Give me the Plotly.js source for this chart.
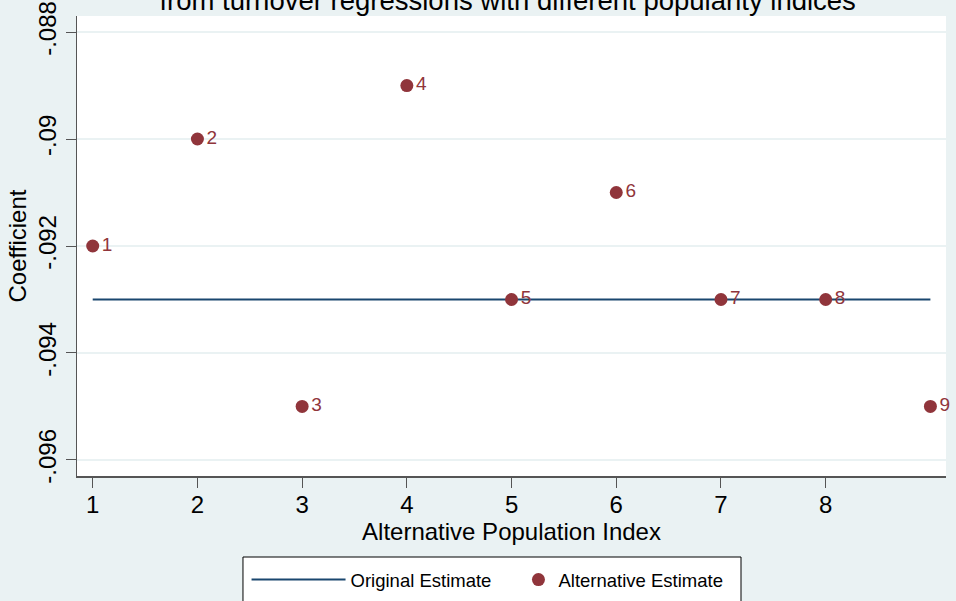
<!DOCTYPE html>
<html>
<head>
<meta charset="utf-8">
<script src="https://cdn.plot.ly/plotly-3.0.1.min.js"></script>
<style>html,body{margin:0;padding:0;background:#eaf2f3;}#chart{width:956px;height:601px;}</style>
</head>
<body>
<div id="chart"></div>
<script>
// Data
const indexIds = [1, 2, 3, 4, 5, 6, 7, 8, 9];
const indexLabels = ["1", "2", "3", "4", "5", "6", "7", "8", "9"];
const altEstimates = [-0.092, -0.090, -0.095, -0.089, -0.093, -0.091, -0.093, -0.093, -0.095];
const origX = [1, 9];
const origEstimate = [-0.093, -0.093];
const yTickVals = [-0.088, -0.090, -0.092, -0.094, -0.096];
const yTickText = ["-.088", "-.09", "-.092", "-.094", "-.096"];
const xTickVals = [1, 2, 3, 4, 5, 6, 7, 8];
const xTickText = ["1", "2", "3", "4", "5", "6", "7", "8"];

const FONT = "Liberation Sans, Arial, Helvetica, sans-serif";
const BG = "#eaf2f3";

const traces = [
  {
    x: origX, y: origEstimate, type: "scatter", mode: "lines",
    name: "Original Estimate", legend: "legend",
    line: {color: "#1a476f", width: 2}
  },
  {
    x: indexIds, y: altEstimates, type: "scatter", mode: "markers+text",
    name: "Alternative Estimate", legend: "legend2",
    text: indexLabels, textposition: "middle right",
    textfont: {family: FONT, size: 19, color: "#90353b"},
    marker: {color: "#90353b", size: 13},
    cliponaxis: false
  }
];

const legendFont = {family: FONT, size: 18.5, color: "#000000"};

const layout = {
  width: 956, height: 601,
  margin: {l: 77, r: 10, t: 16, b: 125, autoexpand: false},
  paper_bgcolor: BG, plot_bgcolor: "#ffffff",
  font: {family: FONT, color: "#000000"},
  title: {
    text: "from turnover regressions with different popularity indices",
    font: {family: FONT, size: 27.5, color: "#000000"},
    x: 0.531, xanchor: "center", xref: "container",
    y: 1, yanchor: "middle", yref: "container"
  },
  xaxis: {
    range: [0.85, 9.149],
    tickvals: xTickVals, ticktext: xTickText,
    ticks: "outside", ticklen: 10, tickwidth: 1, tickcolor: "#555555",
    showline: true, linecolor: "#555555", linewidth: 1.5,
    showgrid: false, zeroline: false,
    ticklabelstandoff: -3,
    tickfont: {family: FONT, size: 24, color: "#000000"},
    title: {text: "Alternative Population Index", font: {family: FONT, size: 24, color: "#000000"}, standoff: 0}
  },
  yaxis: {
    range: [-0.0963, -0.0877],
    tickvals: yTickVals, ticktext: yTickText,
    tickangle: -90,
    ticks: "outside", ticklen: 10, tickwidth: 1, tickcolor: "#555555",
    showline: true, linecolor: "#555555", linewidth: 1.5,
    showgrid: true, gridcolor: BG, gridwidth: 2, zeroline: false,
    tickfont: {family: FONT, size: 24, color: "#000000"},
    title: {text: "Coefficient", font: {family: FONT, size: 24, color: "#000000"}, standoff: 0}
  },
  shapes: [{
    type: "rect", xref: "paper", yref: "paper",
    x0: 0.1910, x1: 0.7641, y0: -0.1761, y1: -0.30,
    fillcolor: "#ffffff", line: {color: "#000000", width: 1}, layer: "below"
  }],
  showlegend: true,
  legend: {
    orientation: "h",
    x: 0.1951, xanchor: "left",
    y: -0.1848, yanchor: "top",
    bgcolor: "rgba(0,0,0,0)", borderwidth: 0,
    font: legendFont,
    itemwidth: 94
  },
  legend2: {
    orientation: "h",
    x: 0.508, xanchor: "left",
    y: -0.1848, yanchor: "top",
    bgcolor: "rgba(0,0,0,0)", borderwidth: 0,
    font: legendFont,
    itemwidth: 30
  }
};

Plotly.newPlot("chart", traces, layout, {displayModeBar: false, staticPlot: true});
</script>
</body>
</html>
